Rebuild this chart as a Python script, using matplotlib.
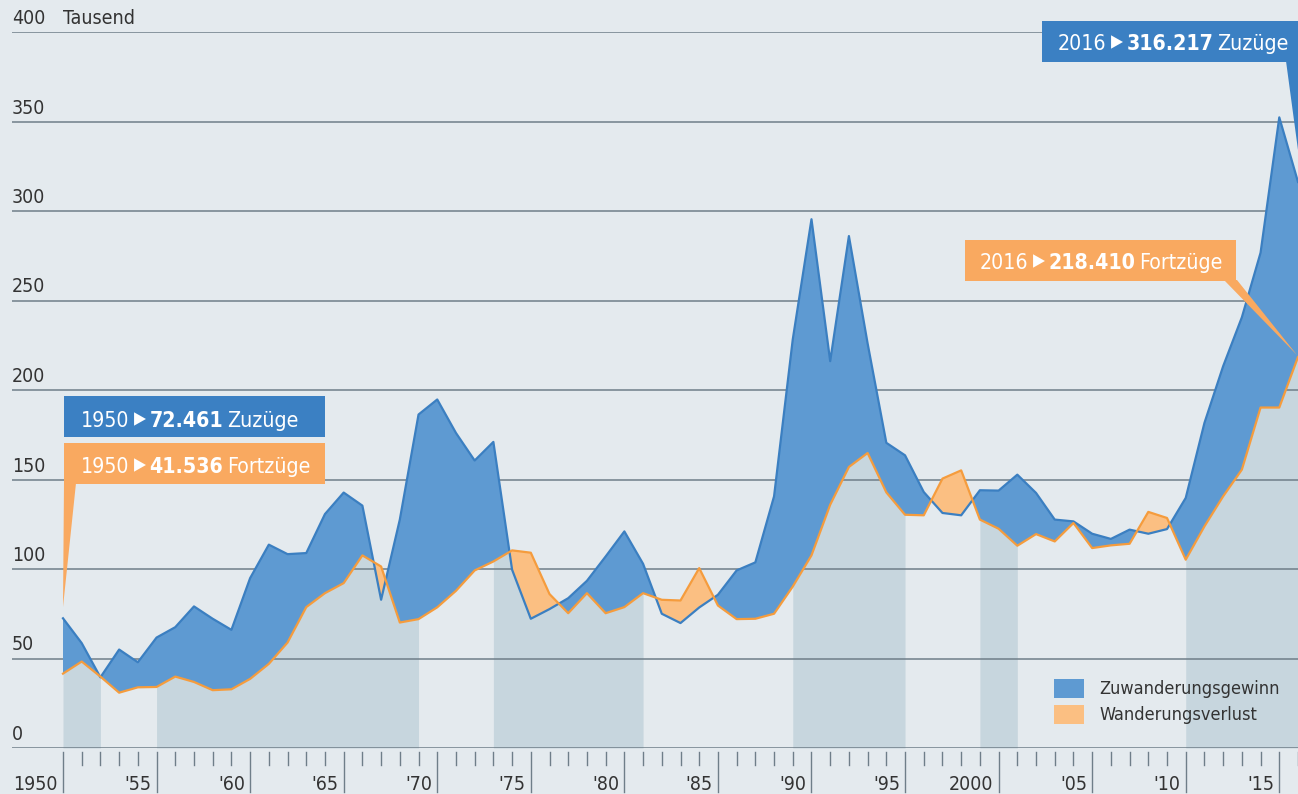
import numpy as np
import matplotlib
matplotlib.use('Agg')
import matplotlib.pyplot as plt
import matplotlib.transforms as mtransforms
import matplotlib.font_manager as fm
from matplotlib.patches import Rectangle, Polygon

# Bayern: Zuzüge / Fortzüge, in Tausend
years = list(range(1950, 2017))
zuzuege = [72.461, 58.6, 39.5, 55.0, 47.9, 61.7, 67.5, 79.1, 72.2, 66.0,
           94.9, 113.6, 108.3, 108.9, 130.7, 142.7, 135.4, 82.8, 127.6, 186.3,
           194.7, 176.0, 160.6, 171.0, 99.6, 72.2, 77.6, 83.7, 93.4, 107.0,
           121.0, 102.9, 75.0, 69.8, 78.5, 85.6, 99.2, 103.7, 140.6, 228.3,
           295.4, 216.1, 286.0, 226.0, 170.5, 163.5, 143.0, 131.3, 130.0, 144.0,
           143.8, 152.7, 142.5, 127.6, 126.6, 119.7, 116.8, 122.0, 119.7, 122.3,
           139.7, 181.6, 213.3, 240.6, 276.7, 352.3, 316.217]
fortzuege = [41.536, 48.3, 39.9, 30.9, 33.9, 34.1, 39.9, 36.9, 32.3, 32.8,
             38.6, 47.0, 58.9, 78.7, 86.5, 92.1, 107.6, 101.4, 70.1, 72.0,
             78.6, 87.8, 99.2, 104.2, 110.4, 109.1, 86.0, 75.3, 86.5, 75.3,
             78.7, 86.5, 82.8, 82.4, 100.5, 79.6, 72.0, 72.2, 75.0, 90.2,
             107.6, 135.9, 157.0, 164.8, 142.8, 130.3, 130.0, 150.5, 155.1, 127.6,
             122.5, 113.0, 119.5, 115.4, 125.7, 111.7, 113.2, 114.1, 131.9, 128.5,
             105.2, 123.8, 140.6, 155.5, 190.2, 190.2, 218.410]
shade_spans = [(1950, 1952), (1955, 1969), (1973, 1981), (1989, 1995),
               (1999, 2001), (2010, 2016)]
y_ticks = [0, 50, 100, 150, 200, 250, 300, 350, 400]
legend_labels = ['Zuwanderungsgewinn', 'Wanderungsverlust']

BG = '#e4eaee'
GRID = '#6f7e89'
SHADE = '#c7d6de'
BLUE_FILL = '#5e9ad2'
BLUE_LINE = '#3b7fc1'
ORANGE_FILL = '#fbbf82'
ORANGE_LINE = '#f59c3d'
BLUE_BOX = '#3b80c3'
ORANGE_BOX = '#f9a960'
TXT = '#333333'

# look for a narrow/condensed sans, otherwise Roboto
narrow = None
for f in fm.fontManager.ttflist:
    low = f.name.lower()
    if 'mono' in low or ('serif' in low and 'sans' not in low) or 'cjk' in low:
        continue
    st = str(f.stretch)
    if 'narrow' in low or 'condensed' in low or st in ('condensed', 'semi-condensed', 'extra-condensed'):
        narrow = (f.name, st)
        break
if narrow:
    FONT = [narrow[0], 'DejaVu Sans']
    STRETCH = narrow[1] if narrow[1] in ('condensed', 'semi-condensed', 'extra-condensed') else 'normal'
    SC = 1.0
else:
    FONT = ['Roboto', 'DejaVu Sans']
    STRETCH = 'normal'
    SC = 0.9

plt.rcParams['font.family'] = FONT
plt.rcParams['font.stretch'] = STRETCH

W, H = 1298, 794
fig = plt.figure(figsize=(W / 100, H / 100), dpi=100)
fig.patch.set_facecolor(BG)


def px(x, y):
    return x / W, 1 - y / H


ax = fig.add_axes([12 / W, 46 / H, (W - 12) / W, 716 / H])
ax.set_facecolor(BG)
yr_px = (1298 - 63) / 66
ax.set_xlim(1950 - 51 / yr_px, 2016)
ax.set_ylim(0, 400)
for s in ax.spines.values():
    s.set_visible(False)
ax.set_xticks([])
ax.set_yticks([])

x = np.array(years, dtype=float)
zu = np.array(zuzuege)
fo = np.array(fortzuege)

# shaded periods
for a, b in shade_spans:
    m = (x >= a) & (x <= b)
    ax.fill_between(x[m], 0, fo[m], color=SHADE, lw=0, zorder=1)

for v in y_ticks:
    ax.axhline(v, color=GRID, lw=1.1, zorder=2)

ax.fill_between(x, fo, zu, where=zu >= fo, interpolate=True, color=BLUE_FILL, lw=0, zorder=3)
ax.fill_between(x, fo, zu, where=zu < fo, interpolate=True, color=ORANGE_FILL, lw=0, zorder=3)
ax.plot(x, zu, color=BLUE_LINE, lw=1.6, zorder=4)
ax.plot(x, fo, color=ORANGE_LINE, lw=1.6, zorder=4)

TICK_FS = 14 * SC

# y labels
ylab_tr = mtransforms.offset_copy(ax.get_yaxis_transform(), fig=fig, x=0, y=4, units='dots')
for v in y_ticks:
    ax.text(0, v, str(v), transform=ylab_tr, ha='left', va='bottom',
            fontsize=TICK_FS, color=TXT)
taus_tr = mtransforms.offset_copy(ax.transData, fig=fig, x=0, y=4, units='dots')
ax.text(1950, 400, 'Tausend', transform=taus_tr, ha='left', va='bottom',
        fontsize=TICK_FS, color=TXT)

# x ticks
xtr = ax.get_xaxis_transform()
for yr in years:
    major = yr % 5 == 0
    y1 = -44 / 716 if major else -17 / 716
    ax.plot([yr, yr], [-4 / 716, y1], transform=xtr, color=GRID, lw=1.0,
            clip_on=False, zorder=2)
xlab_tr = mtransforms.offset_copy(xtr, fig=fig, x=-5, y=-42, units='dots')
for yr in years:
    if yr % 5 == 0:
        lab = str(yr) if yr in (1950, 2000) else "'" + str(yr)[2:]
        ax.text(yr, 0, lab, transform=xlab_tr, ha='right', va='baseline',
                fontsize=TICK_FS, color=TXT)

# callouts
renderer = fig.canvas.get_renderer()
BOX_FS = 15.3 * SC


def callout(box, base_y, x0, color, parts):
    bx0, by0, bx1, by1 = box
    fig.patches.append(Rectangle(px(bx0, by1), (bx1 - bx0) / W, (by1 - by0) / H,
                                 transform=fig.transFigure, color=color, lw=0, zorder=5))
    xx = x0 / W
    yy = 1 - base_y / H
    for s, w in parts:
        if s == '\u25B8':
            t = fig.text(xx, yy + 1 / H, s, color='white', fontsize=BOX_FS * 1.25,
                         family='DejaVu Sans', ha='left', va='baseline', zorder=6)
        else:
            t = fig.text(xx, yy, s, color='white', fontsize=BOX_FS, fontweight=w,
                         ha='left', va='baseline', zorder=6)
        bb = t.get_window_extent(renderer)
        xx = (bb.x1 + 4) / W


def wedge(pts, color):
    fig.patches.append(Polygon([px(a, b) for a, b in pts], closed=True,
                               transform=fig.transFigure, color=color, lw=0, zorder=5))


tri = ('\u25B8', 'normal')
callout((64, 396, 325, 437), 427, 81, BLUE_BOX,
        [('1950', 'normal'), tri, ('72.461', 'bold'), ('Zuzüge', 'normal')])
callout((64, 443, 325, 484), 473, 81, ORANGE_BOX,
        [('1950', 'normal'), tri, ('41.536', 'bold'), ('Fortzüge', 'normal')])
wedge([(64, 483), (76, 483), (63, 607)], ORANGE_BOX)

callout((1042, 21, 1298, 62), 50, 1058, BLUE_BOX,
        [('2016', 'normal'), tri, ('316.217', 'bold'), ('Zuzüge', 'normal')])
wedge([(1286, 61), (1298, 61), (1298, 150)], BLUE_BOX)
callout((965, 240, 1236, 281), 269, 980, ORANGE_BOX,
        [('2016', 'normal'), tri, ('218.410', 'bold'), ('Fortzüge', 'normal')])
wedge([(1224, 280), (1237, 280), (1297, 355)], ORANGE_BOX)

# legend
for i, (lab, c) in enumerate(zip(legend_labels, [BLUE_FILL, ORANGE_FILL])):
    top = 679 + i * 26
    fig.patches.append(Rectangle(px(1054, top + 19), 30 / W, 19 / H,
                                 transform=fig.transFigure, color=c, lw=0))
    fig.text(1099 / W, 1 - (top + 9.5) / H, lab, ha='left', va='center',
             fontsize=13 * SC, color=TXT)

fig.savefig('out.png', dpi=100, facecolor=BG)
